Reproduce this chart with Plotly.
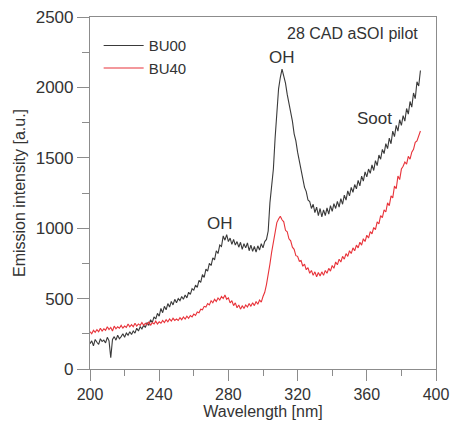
import plotly.graph_objects as go

wavelength = list(range(200, 392))

bu00 = [180, 200, 165, 210, 190, 175, 215, 195, 205, 185,
        225, 200, 80, 210, 230, 205, 240, 215, 230, 250,
        225, 255, 240, 265, 245, 270, 255, 290, 270, 300,
        285, 310, 295, 330, 310, 350, 330, 370, 355, 395,
        375, 430, 400, 445, 420, 465, 440, 480, 455, 495,
        470, 500, 485, 515, 495, 525, 505, 545, 530, 570,
        560, 595, 580, 630, 615, 670, 650, 710, 695, 750,
        735, 790, 775, 840, 820, 880, 870, 945, 915, 955,
        905, 930, 885, 920, 880, 905, 865, 900, 850, 890,
        860, 895, 840, 880, 835, 870, 830, 875, 845, 890,
        860, 905, 920, 980, 1180, 1310, 1420, 1640, 1860, 1990,
        2070, 2130, 2080, 2030, 1950, 1890, 1810, 1760, 1670, 1620,
        1540, 1480, 1400, 1360, 1290, 1260, 1200, 1190, 1140, 1170,
        1110, 1150, 1090, 1140, 1080, 1130, 1090, 1145, 1100, 1160,
        1120, 1175, 1140, 1190, 1150, 1210, 1170, 1235, 1200, 1265,
        1230, 1290, 1255, 1310, 1280, 1340, 1300, 1370, 1335, 1400,
        1365, 1420, 1390, 1450, 1410, 1480, 1445, 1520, 1490, 1560,
        1530, 1600, 1565, 1640, 1600, 1690, 1650, 1730, 1690, 1770,
        1730, 1800, 1760, 1850, 1810, 1900, 1860, 1960, 1920, 2040,
        2010, 2120]

bu40 = [265, 250, 275, 260, 280, 265, 290, 270, 285, 275,
        300, 280, 295, 270, 305, 285, 300, 290, 310, 290,
        305, 295, 320, 300, 315, 300, 325, 305, 320, 310,
        330, 310, 325, 315, 335, 310, 330, 320, 340, 320,
        335, 325, 345, 330, 350, 335, 355, 340, 360, 345,
        355, 345, 365, 350, 370, 355, 375, 360, 380, 370,
        390, 380, 405, 400, 425, 420, 445, 440, 465, 455,
        485, 470, 495, 480, 505, 490, 515, 500, 525, 495,
        505, 470, 485, 450, 470, 435, 455, 425, 450, 430,
        455, 440, 465, 445, 470, 450, 480, 460, 490, 475,
        515, 545, 600, 665, 745, 830, 905, 970, 1040, 1065,
        1085, 1060, 1045, 985, 975, 925, 910, 865, 850, 805,
        800, 765, 770, 730, 745, 705, 720, 680, 700, 665,
        690, 655, 685, 660, 690, 665, 700, 680, 715, 695,
        735, 715, 760, 740, 780, 760, 800, 780, 820, 800,
        840, 820, 860, 840, 880, 860, 900, 880, 925, 905,
        950, 930, 975, 960, 1005, 990, 1045, 1030, 1090, 1075,
        1130, 1115, 1180, 1160, 1230, 1215, 1300, 1280, 1370, 1345,
        1420, 1440, 1470, 1455, 1510, 1490, 1540, 1560, 1610, 1620,
        1660, 1690]

x_ticks = [200, 240, 280, 320, 360, 400]
y_ticks = [0, 500, 1000, 1500, 2000, 2500]

FONT = "Liberation Sans, Arial, Helvetica, sans-serif"
TXT = "#333333"
AX = "#8c8c8c"

fig = go.Figure()
fig.add_trace(go.Scatter(x=wavelength, y=bu00, mode="lines", name="BU00",
                         line=dict(color="#3a3a3a", width=1.1)))
fig.add_trace(go.Scatter(x=wavelength, y=bu40, mode="lines", name="BU40",
                         line=dict(color="#e8333a", width=1.1)))

notes = [
    (351.5, 2386, "28 CAD aSOI pilot", 16),
    (311, 2209, "OH", 17),
    (275, 1030, "OH", 17),
    (364.5, 1776, "Soot", 17),
]
for nx, ny, t, s in notes:
    fig.add_annotation(x=nx, y=ny, text=t, showarrow=False,
                       font=dict(family=FONT, size=s, color=TXT),
                       xanchor="center", yanchor="middle")

axis_common = dict(
    showgrid=False, zeroline=False, showline=True, linecolor=AX, linewidth=1.2,
    mirror=True, ticks="outside", tickcolor=AX, tickwidth=1.2,
    automargin=False, ticklabeloverflow="allow",
)

fig.update_layout(
    width=451, height=423,
    margin=dict(l=90, r=15, t=17, b=54),
    paper_bgcolor="white", plot_bgcolor="white",
    font=dict(family=FONT, color=TXT),
    showlegend=True,
    legend=dict(x=0.025, y=0.965, xanchor="left", yanchor="top",
                bgcolor="rgba(0,0,0,0)", font=dict(family=FONT, size=15, color=TXT),
                tracegroupgap=2, itemwidth=40),
    xaxis=dict(range=[200, 400], tickvals=x_ticks, ticklen=11,
               tickfont=dict(family=FONT, size=16, color=TXT),
               minor=dict(dtick=20, ticks="outside", ticklen=6, tickcolor=AX, tickwidth=1.2),
               title=dict(text="Wavelength [nm]", standoff=2,
                          font=dict(family=FONT, size=16, color=TXT)),
               **axis_common),
    yaxis=dict(range=[0, 2500], tickvals=y_ticks, ticklen=12,
               tickfont=dict(family=FONT, size=17, color=TXT),
               minor=dict(dtick=250, ticks="outside", ticklen=7, tickcolor=AX, tickwidth=1.2),
               title=dict(text="Emission intensity [a.u.]", standoff=6,
                          font=dict(family=FONT, size=16, color=TXT)),
               **axis_common),
)

fig.write_html("out.html", config={"displayModeBar": False},
               post_script="document.body.style.margin='0';document.body.style.overflow='hidden';")
